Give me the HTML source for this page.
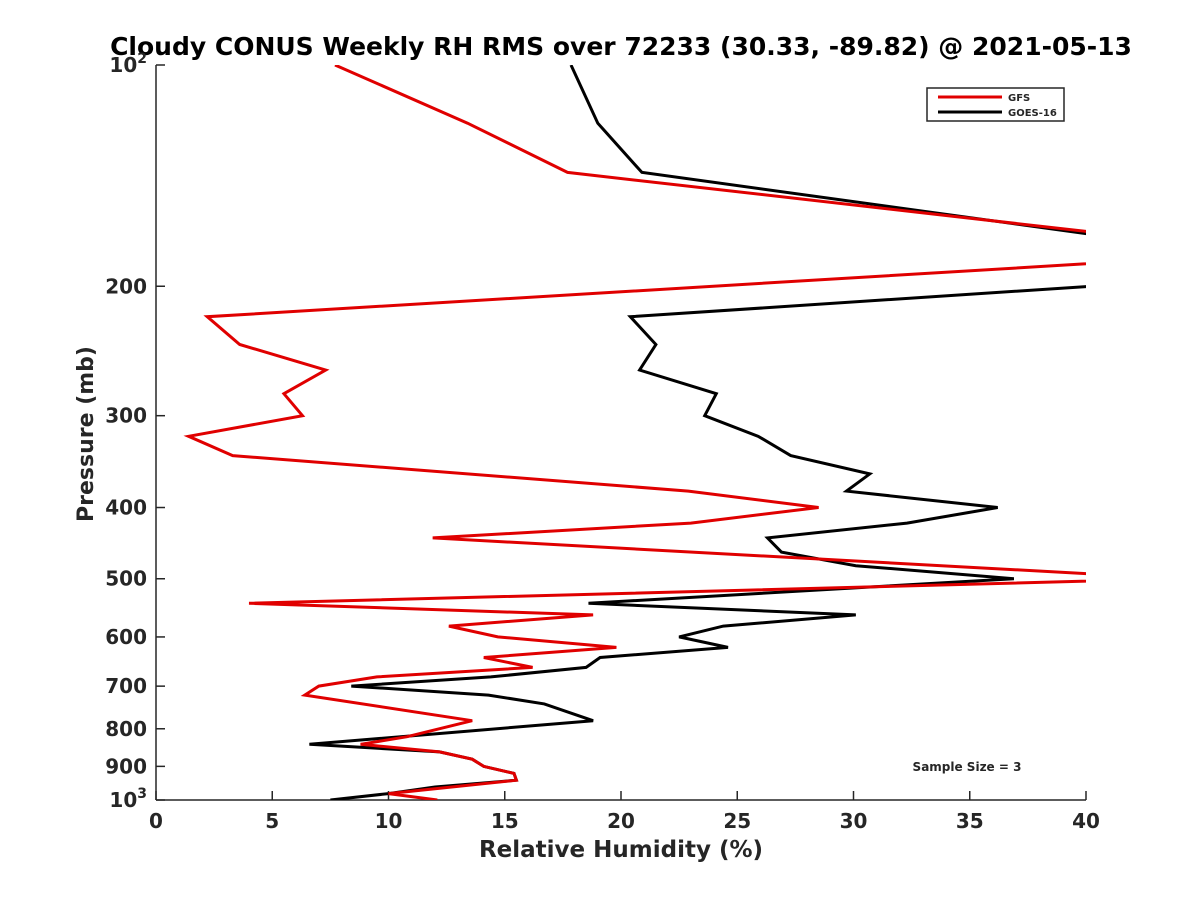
<!DOCTYPE html>
<html><head><meta charset="utf-8"><style>
body{margin:0;background:#fff;}
svg text{font-family:"DejaVu Sans","Liberation Sans",sans-serif;font-weight:bold;fill:#262626;}
</style></head><body>
<svg id="chart" width="1200" height="900" xmlns="http://www.w3.org/2000/svg">
<rect width="1200" height="900" fill="#fff"/>
<defs><clipPath id="plotclip"><rect x="156" y="65" width="930" height="735"/></clipPath></defs>
<text x="621" y="55" font-size="25" text-anchor="middle" style="fill:#000">Cloudy CONUS Weekly RH RMS over 72233 (30.33, -89.82) @ 2021-05-13</text>
<g id="axes"></g>
<g id="series" clip-path="url(#plotclip)"></g>
<g>
<rect x="927" y="88" width="137" height="33" fill="#fff" stroke="#262626" stroke-width="1.5"/>
<line x1="938" y1="97" x2="1002" y2="97" stroke="#e00000" stroke-width="3"/>
<text x="1008" y="101" font-size="10">GFS</text>
<line x1="938" y1="112" x2="1002" y2="112" stroke="#000" stroke-width="3"/>
<text x="1008" y="116" font-size="10">GOES-16</text>
</g>
<text x="967" y="771" font-size="12" text-anchor="middle">Sample Size = 3</text>
<text x="621" y="857" font-size="23" text-anchor="middle">Relative Humidity (%)</text>
<text x="0" y="0" font-size="22" text-anchor="middle" transform="translate(93,434) rotate(-90)">Pressure (mb)</text>
</svg>
<script>
const xTicks=[0,5,10,15,20,25,30,35,40];
const yTicks=[100,200,300,400,500,600,700,800,900,1000];
const gfsP=[100,120,140,180,220,240,260,280,300,320,340,380,400,420,440,500,540,560,580,600,620,640,660,680,700,720,780,820,840,860,880,900,920,940,980,1000];
const gfsV=[7.7,13.4,17.7,48,2.2,3.6,7.3,5.5,6.3,1.4,3.3,22.9,28.5,23.0,11.9,44,4.0,18.8,12.6,14.7,19.8,14.1,16.2,9.5,7.0,6.4,13.6,10.8,8.8,12.2,13.6,14.1,15.4,15.5,10.0,12.1];
const goesP=[100,120,140,180,200,220,240,260,280,300,320,340,360,380,400,420,440,460,480,500,540,560,580,600,620,640,660,680,700,720,740,780,840,860,880,900,920,940,960,980,1000];
const goesV=[17.85,19.0,20.9,45.9,40.2,20.4,21.5,20.8,24.1,23.6,25.9,27.3,30.7,29.7,36.2,32.3,26.3,26.9,30.1,36.9,18.6,30.1,24.4,22.5,24.6,19.1,18.5,14.4,8.4,14.3,16.7,18.8,6.6,12.2,13.6,14.1,15.4,15.5,12.0,10.0,7.5];
const NS="http://www.w3.org/2000/svg";
function xs(v){return 156+v*(930/40);}
function ys(p){return 65+(Math.log10(p)-2)*735;}
const ax=document.getElementById('axes');
function mk(t,a,parent){const e=document.createElementNS(NS,t);for(const k in a)e.setAttribute(k,a[k]);parent.appendChild(e);return e;}
let l=mk('line',{x1:156,y1:65,x2:156,y2:800,stroke:'#262626','stroke-width':1.5},ax);


l=mk('line',{x1:156,y1:800,x2:1086,y2:800,stroke:'#262626','stroke-width':1.5},ax);


xTicks.forEach(v=>{
 const t=mk('line',{x1:xs(v),y1:800,x2:xs(v),y2:791,stroke:'#262626','stroke-width':1.5},ax);
 
 
 const tx=mk('text',{x:xs(v),y:828,'font-size':20,'text-anchor':'middle'},ax);tx.textContent=v;
 
 
});
yTicks.forEach(p=>{
 const t=mk('line',{x1:156,y1:ys(p),x2:165,y2:ys(p),stroke:'#262626','stroke-width':1.5},ax);
 
 
 const tx=mk('text',{x:147,y:ys(p)+7,'font-size':20,'text-anchor':'end'},ax);
 if(p===100||p===1000){tx.textContent='10';const s=mk('tspan',{dy:-9,'font-size':14},tx);s.textContent=p===100?'2':'3';}
 else tx.textContent=p;
 
 
});
const sg=document.getElementById('series');
function line(P,V,col,name){
 const pts=P.map((p,i)=>xs(V[i]).toFixed(1)+','+ys(p).toFixed(1)).join(' ');
 const e=mk('polyline',{points:pts,fill:'none',stroke:col,'stroke-width':3,'stroke-linejoin':'miter'},sg);
 
 
}
line(goesP,goesV,'#000','goes16-line');
line(gfsP,gfsV,'#e00000','gfs-line');
</script>
</body></html>
